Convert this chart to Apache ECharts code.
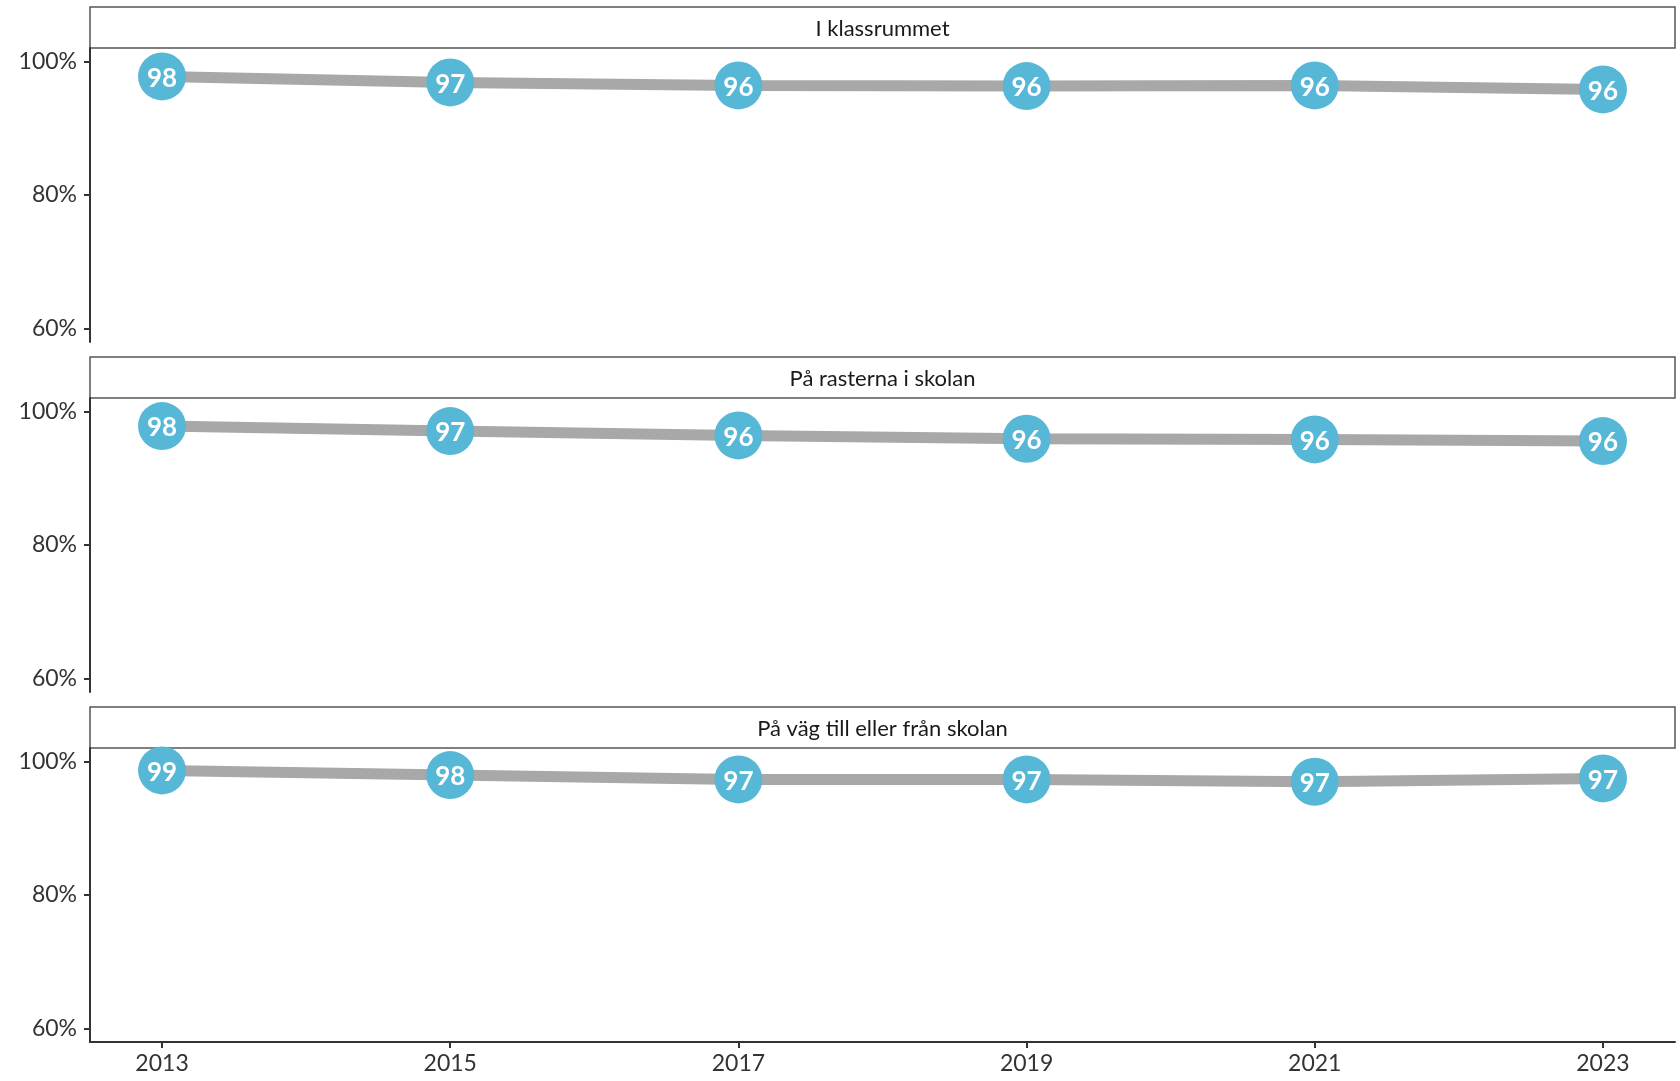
<!DOCTYPE html>
<html>
<head>
<meta charset="utf-8">
<script src="https://cdn.jsdelivr.net/npm/echarts@6/dist/echarts.min.js"></script>
<style>
html,body{margin:0;padding:0;background:#fff;}
#chart{width:1680px;height:1081px;}
</style>
</head>
<body>
<div id="chart"></div>
<script>
// ---- data ----
const years = [2013, 2015, 2017, 2019, 2021, 2023];
const panelTitles = ['I klassrummet', 'På rasterna i skolan', 'På väg till eller från skolan'];
const klassrummet = [97.75, 96.85, 96.4, 96.3, 96.4, 95.8];
const rasterna = [97.8, 97.05, 96.4, 95.9, 95.8, 95.55];
const vagTillFran = [98.65, 97.95, 97.3, 97.3, 96.95, 97.45];
const yTicks = [60, 80, 100];
const xTicks = [2013, 2015, 2017, 2019, 2021, 2023];

// ---- layout ----
const FONT = 'Lato, "Open Sans", sans-serif';
const W = 1680;
const gridLeft = 90, gridRight = 5;
const gridW = W - gridLeft - gridRight;
const panelH = 294;
const stripH = 41;
const gridTops = [48, 398, 748];
const seriesData = [klassrummet, rasterna, vagTillFran];

const grids = [], xAxes = [], yAxes = [], series = [], graphics = [];
for (let i = 0; i < 3; i++) {
  const last = i === 2;
  grids.push({left: gridLeft, width: gridW, top: gridTops[i], height: panelH, containLabel: false});
  xAxes.push({
    type: 'value', gridIndex: i, min: 2012.5, max: 2023.5,
    splitLine: {show: false},
    axisLine: {show: last, onZero: false, lineStyle: {color: '#333', width: 2}},
    axisTick: {show: last, length: 6, lineStyle: {color: '#333', width: 2}, customValues: xTicks},
    axisLabel: {show: last, customValues: xTicks, margin: 10, fontSize: 23, color: '#333', fontFamily: FONT,
      formatter: v => String(v)}
  });
  yAxes.push({
    type: 'value', gridIndex: i, min: 58, max: 102,
    splitLine: {show: false},
    axisLine: {show: true, onZero: false, lineStyle: {color: '#333', width: 2}},
    axisTick: {show: true, length: 6, lineStyle: {color: '#333', width: 2}, customValues: yTicks},
    axisLabel: {customValues: yTicks, margin: 13, fontSize: 23, color: '#333', fontFamily: FONT,
      formatter: v => v + '%'}
  });
  series.push({
    type: 'line', xAxisIndex: i, yAxisIndex: i,
    data: years.map((y, k) => [y, seriesData[i][k]]),
    symbol: 'circle', symbolSize: 48,
    itemStyle: {color: '#56B7D6'},
    lineStyle: {color: '#A8A8A8', width: 11},
    label: {show: true, position: 'inside', offset: [0, 2], color: '#fff', fontSize: 26, fontWeight: 'bold', fontFamily: FONT,
      formatter: p => String(Math.round(p.value[1]))},
    emphasis: {disabled: true},
    silent: true, animation: false
  });
  const st = gridTops[i] - stripH;
  graphics.push({
    type: 'rect', shape: {x: gridLeft, y: st, width: gridW, height: stripH},
    style: {fill: '#fff', stroke: '#555', lineWidth: 1.5}, silent: true
  });
  graphics.push({
    type: 'text', x: gridLeft + gridW / 2, y: st + stripH / 2 + 1,
    style: {text: panelTitles[i], fill: '#1a1a1a', font: '22px ' + FONT, align: 'center', verticalAlign: 'middle'},
    silent: true
  });
}

const chart = echarts.init(document.getElementById('chart'));
chart.setOption({
  backgroundColor: '#fff',
  animation: false,
  grid: grids, xAxis: xAxes, yAxis: yAxes, series: series,
  graphic: graphics
});
</script>
</body>
</html>
